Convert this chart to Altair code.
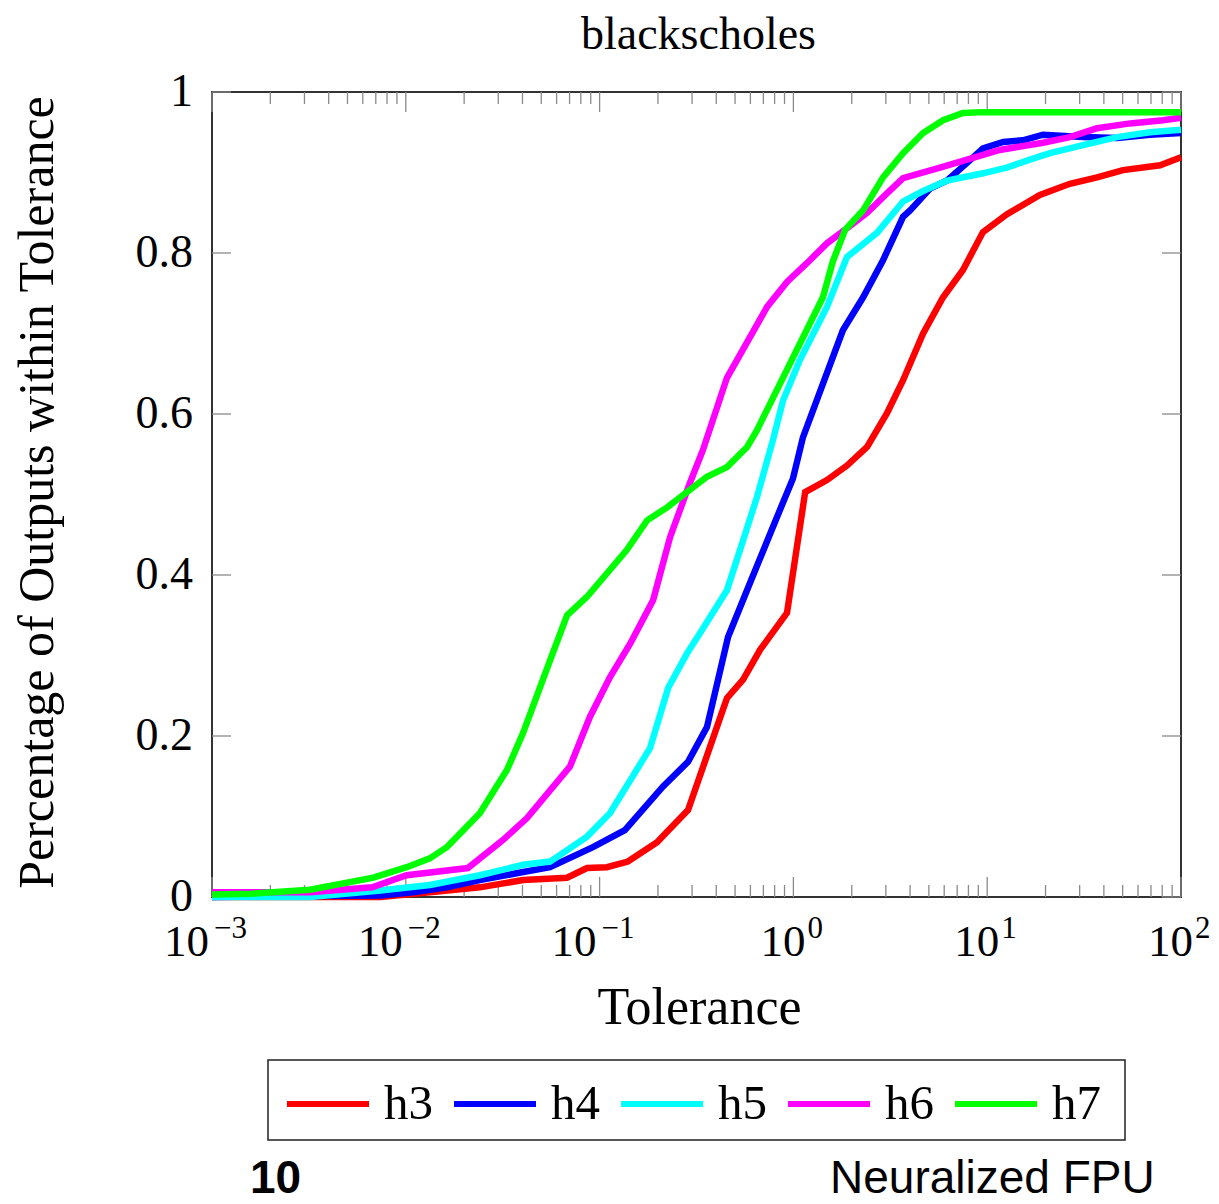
import altair as alt
import pandas as pd

series_names = ["h3", "h4", "h5", "h6", "h7"]
series_colors = ["#ff0000", "#0000ff", "#00ffff", "#ff00ff", "#00ff00"]

h3_tol = [0.001, 0.0074, 0.0133, 0.0241, 0.0403, 0.0679, 0.0861, 0.109, 0.140, 0.198, 0.223, 0.286, 0.454,
          0.550, 0.673, 0.927, 1.15, 1.49, 1.89, 2.40, 3.04, 3.68, 4.67, 5.92, 7.50, 9.51, 12.6, 18.7,
          26.7, 36.9, 50.2, 78.0, 100]
h3_val = [0.0, 0.0, 0.006, 0.012, 0.021, 0.024, 0.036, 0.037, 0.044, 0.068, 0.081, 0.108, 0.247,
          0.27, 0.307, 0.353, 0.503, 0.518, 0.536, 0.559, 0.601, 0.642, 0.70, 0.745, 0.779, 0.826, 0.848, 0.872,
          0.886, 0.894, 0.903, 0.909, 0.919]

h4_tol = [0.001, 0.0074, 0.0109, 0.0163, 0.0241, 0.0403, 0.0555, 0.0924, 0.135, 0.212, 0.286, 0.358, 0.460,
          0.597, 0.785, 0.995, 1.12, 1.80, 2.29, 2.90, 3.68, 4.00, 5.07, 6.21, 7.87, 9.51, 12.1, 15.3,
          19.4, 31.2, 46.8, 69.2, 100]
h4_val = [0.0, 0.002, 0.006, 0.012, 0.021, 0.031, 0.037, 0.062, 0.083, 0.137, 0.168, 0.211, 0.323,
          0.39, 0.46, 0.52, 0.571, 0.704, 0.745, 0.791, 0.845, 0.853, 0.88, 0.89, 0.912, 0.93, 0.938, 0.94,
          0.947, 0.944, 0.943, 0.947, 0.949]

h5_tol = [0.001, 0.0032, 0.0074, 0.0133, 0.0241, 0.0403, 0.0555, 0.0861, 0.113, 0.144, 0.182, 0.226, 0.283,
          0.330, 0.454, 0.550, 0.649, 0.785, 0.885, 1.08, 1.49, 1.89, 2.70, 3.68, 4.67, 6.21, 9.51, 12.6,
          16.6, 21.1, 31.2, 46.8, 69.2, 100]
h5_val = [0.0, 0.0, 0.008, 0.015, 0.027, 0.04, 0.044, 0.075, 0.104, 0.145, 0.185, 0.26, 0.303,
          0.328, 0.381, 0.443, 0.497, 0.568, 0.617, 0.667, 0.733, 0.795, 0.825, 0.864, 0.877, 0.89, 0.899, 0.906,
          0.916, 0.924, 0.934, 0.944, 0.95, 0.953]

h6_tol = [0.001, 0.0032, 0.0067, 0.0101, 0.0209, 0.0318, 0.0422, 0.0703, 0.0892, 0.113, 0.144, 0.189, 0.231,
          0.292, 0.341, 0.454, 0.731, 0.927, 1.17, 1.49, 1.85, 2.40, 3.04, 3.68, 5.71, 7.87, 11.6, 19.4,
          26.7, 36.9, 54.6, 80.8, 100]
h6_val = [0.006, 0.006, 0.012, 0.027, 0.036, 0.071, 0.098, 0.162, 0.224, 0.273, 0.315, 0.369, 0.447,
          0.514, 0.555, 0.645, 0.733, 0.764, 0.787, 0.812, 0.829, 0.85, 0.874, 0.893, 0.906, 0.916, 0.928, 0.937,
          0.944, 0.955, 0.961, 0.965, 0.968]

h7_tol = [0.001, 0.0016, 0.0032, 0.0068, 0.0101, 0.0133, 0.0163, 0.0241, 0.0333, 0.0403, 0.0555, 0.0679,
          0.0861, 0.138, 0.176, 0.223, 0.358, 0.454, 0.577, 0.649, 1.42, 1.60, 1.85, 2.29, 2.90, 3.68, 4.67,
          5.92, 7.50, 9.51, 100]
h7_val = [0.003, 0.004, 0.009, 0.024, 0.037, 0.048, 0.062, 0.104, 0.158, 0.204, 0.294, 0.35,
          0.373, 0.431, 0.468, 0.484, 0.522, 0.534, 0.559, 0.58, 0.745, 0.79, 0.829, 0.853, 0.894, 0.924, 0.949,
          0.965, 0.974, 0.975, 0.975]

y_tick_values = [0, 0.2, 0.4, 0.6, 0.8, 1]
y_tick_labels = ["0", "0.2", "0.4", "0.6", "0.8", "1"]
x_decades = [0.001, 0.01, 0.1, 1, 10, 100]
x_exponents = [-3, -2, -1, 0, 1, 2]
x_exp_labels = ["\u22123", "\u22122", "\u22121", "0", "1", "2"]
minor_multipliers = [2, 3, 4, 5, 6, 7, 8, 9]

title_text = "blackscholes"
x_title = "Tolerance"
y_title = "Percentage of Outputs within Tolerance"
footer_left = "10"
footer_right = "Neuralized FPU"

W, H = 969, 805
SERIF = "Liberation Serif"
SANS = "Liberation Sans"

rows = []
for name, tols, vals in [("h3", h3_tol, h3_val), ("h4", h4_tol, h4_val), ("h5", h5_tol, h5_val),
                         ("h6", h6_tol, h6_val), ("h7", h7_tol, h7_val)]:
    for t, v in zip(tols, vals):
        rows.append({"series": name, "tol": t, "val": v})
df = pd.DataFrame(rows)

xs = alt.Scale(type="log", domain=[0.001, 100], nice=False)
ys = alt.Scale(domain=[0, 1], nice=False)


def X(field):
    return alt.X(field, scale=xs, axis=None)


def Y(field):
    return alt.Y(field, scale=ys, axis=None)


# legend frame (decoration behind the legend entries)
frame_df = pd.DataFrame({"k": [0]})
legend_frame = alt.Chart(frame_df).mark_rect(fill="white", stroke="#222222", strokeWidth=1.5).encode(
    x=alt.value(56), x2=alt.value(913), y=alt.value(968), y2=alt.value(1048))

lines = alt.Chart(df).mark_line(strokeWidth=6.5).encode(
    x=X("tol:Q"),
    y=Y("val:Q"),
    color=alt.Color("series:N", scale=alt.Scale(domain=series_names, range=series_colors),
                    legend=alt.Legend(orient="none", legendX=72, legendY=968, direction="horizontal",
                                      title=None, symbolType="stroke", symbolSize=6724, symbolStrokeWidth=6,
                                      labelFont=SERIF, labelFontSize=49, labelColor="black", labelOffset=12,
                                      columnPadding=9, padding=0, columns=5)),
)

ydf = pd.DataFrame({"v": y_tick_values, "lab": y_tick_labels})
minor = [m * d for d in x_decades[:-1] for m in minor_multipliers]
mdf = pd.DataFrame({"tol": minor})
xdf = pd.DataFrame({"tol": x_decades, "elab": x_exp_labels, "e": x_exponents})
xneg = xdf[xdf["e"] < 0]
xpos = xdf[xdf["e"] >= 0]

tick_color = "#8a8a8a"
rule_kw = dict(color=tick_color, strokeWidth=1.3)
y_left = alt.Chart(ydf).mark_rule(**rule_kw).encode(y=Y("v:Q"), x=alt.value(0), x2=alt.value(19))
y_right = alt.Chart(ydf).mark_rule(**rule_kw).encode(y=Y("v:Q"), x=alt.value(W - 19), x2=alt.value(W))
x_bot = alt.Chart(xdf).mark_rule(**rule_kw).encode(x=X("tol:Q"), y=alt.value(H), y2=alt.value(H - 20))
x_top = alt.Chart(xdf).mark_rule(**rule_kw).encode(x=X("tol:Q"), y=alt.value(0), y2=alt.value(20))
m_bot = alt.Chart(mdf).mark_rule(**rule_kw).encode(x=X("tol:Q"), y=alt.value(H), y2=alt.value(H - 12))
m_top = alt.Chart(mdf).mark_rule(**rule_kw).encode(x=X("tol:Q"), y=alt.value(0), y2=alt.value(12))

y_labels = alt.Chart(ydf).mark_text(font=SERIF, fontSize=46, align="right", baseline="middle",
                                    color="black").encode(y=Y("v:Q"), x=alt.value(-19), text="lab:N")

base_neg = alt.Chart(xneg).mark_text(font=SERIF, fontSize=45, align="right", baseline="alphabetic",
                                     dx=-3, color="black", text="10").encode(
    x=X("tol:Q"), y=alt.value(H + 59))
base_pos = alt.Chart(xpos).mark_text(font=SERIF, fontSize=45, align="right", baseline="alphabetic",
                                     dx=12, color="black", text="10").encode(
    x=X("tol:Q"), y=alt.value(H + 59))
exp_neg = alt.Chart(xneg).mark_text(font=SERIF, fontSize=31, align="left", baseline="alphabetic",
                                    dx=2, color="black").encode(
    x=X("tol:Q"), y=alt.value(H + 41), text="elab:N")
exp_pos = alt.Chart(xpos).mark_text(font=SERIF, fontSize=31, align="left", baseline="alphabetic",
                                    dx=14, color="black").encode(
    x=X("tol:Q"), y=alt.value(H + 41), text="elab:N")

tdf = pd.DataFrame({"t": [title_text], "xt": [x_title], "yt": [y_title],
                    "fl": [footer_left], "fr": [footer_right]})
title_mark = alt.Chart(tdf).mark_text(font=SERIF, fontSize=46, align="center", baseline="alphabetic",
                                      color="black").encode(
    x=alt.value(W / 2 + 2), y=alt.value(-43), text="t:N")
xtitle_mark = alt.Chart(tdf).mark_text(font=SERIF, fontSize=52, align="center", baseline="alphabetic",
                                       color="black").encode(
    x=alt.value(W / 2 + 3), y=alt.value(H + 127), text="xt:N")
ytitle_mark = alt.Chart(tdf).mark_text(font=SERIF, fontSize=50, align="center", baseline="alphabetic",
                                       angle=270, color="black").encode(
    x=alt.value(-159), y=alt.value(H / 2 - 2), text="yt:N")
fl_mark = alt.Chart(tdf).mark_text(font=SANS, fontSize=46, fontWeight="bold", align="left",
                                   baseline="alphabetic", color="black").encode(
    x=alt.value(38), y=alt.value(H + 296), text="fl:N")
fr_mark = alt.Chart(tdf).mark_text(font=SANS, fontSize=46, align="left", baseline="alphabetic",
                                   color="black").encode(
    x=alt.value(618), y=alt.value(H + 296), text="fr:N")

chart = alt.layer(
    legend_frame,
    m_bot, m_top, x_bot, x_top, y_left, y_right,
    lines,
    y_labels, base_neg, base_pos, exp_neg, exp_pos,
    title_mark, xtitle_mark, ytitle_mark, fl_mark, fr_mark,
).properties(
    width=W, height=H,
    background="white",
    autosize=alt.AutoSizeParams(type="none"),
    padding={"left": 204, "top": 84, "right": 30, "bottom": 320},
).configure_view(stroke="#333333", strokeWidth=2)

chart.save("out.html", embed_options={"renderer": "svg", "actions": False})
